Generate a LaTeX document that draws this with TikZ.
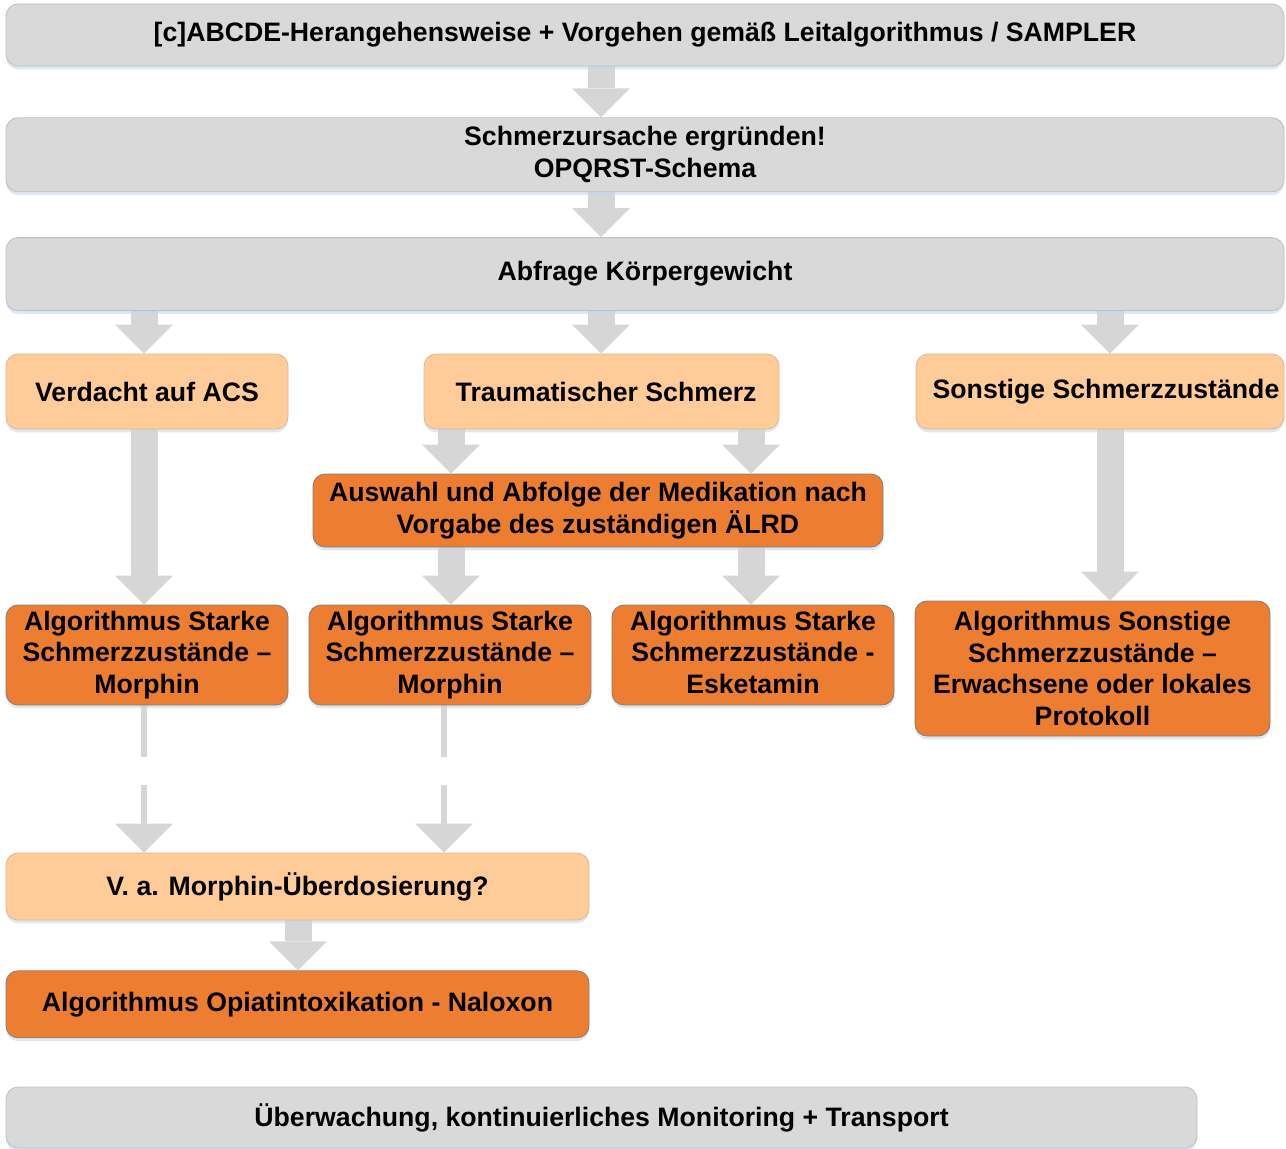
\documentclass[tikz,border=0pt]{standalone}
\usepackage{fontspec}
\setmainfont{Liberation Sans}
\usetikzlibrary{positioning}
\usetikzlibrary{arrows.meta}
\usetikzlibrary{shadows}
\usetikzlibrary{backgrounds}

\definecolor{boxgray}{HTML}{D9D9D9}
\definecolor{flowgray}{HTML}{D6D6D6}
\definecolor{peach}{HTML}{FFCC99}
\definecolor{deeporange}{HTML}{ED7D31}
\definecolor{rimgray}{HTML}{BFBFBF}
\definecolor{shadowblue}{HTML}{C8D8EE}

\tikzset{
    stage/.style={rectangle,rounded corners=9pt,align=center,inner sep=2pt,line width=0.6pt,
        font=\bfseries\fontsize{20}{23.8}\selectfont,
        drop shadow={shadow xshift=0pt,shadow yshift=-2.5pt,fill=shadowblue,opacity=0.6}},
    greystage/.style={stage,fill=boxgray,draw=rimgray},
    peachstage/.style={stage,fill=peach,draw=peach!75!gray},
    orangestage/.style={stage,fill=deeporange,draw=gray},
    blockflow/.style={draw=flowgray,line width=20.25pt,
        -{Triangle[length=21.75pt,width=43.5pt,line width=0pt]}},
    dashflow/.style={draw=flowgray,line width=4.5pt,dash pattern=on 39pt off 21pt,
        -{Triangle[length=21.75pt,width=43.5pt,line width=0pt]}}
}

\begin{document}
\begin{tikzpicture}[x=0.75pt,y=-0.75pt]
    \useasboundingbox (0,0) rectangle (1286,1149);

    % main chain
    \node (abcde)  [greystage,minimum width=958.5pt,minimum height=46.5pt] at (645,35)
        {[c]ABCDE-Herangehensweise + Vorgehen gemäß Leitalgorithmus / SAMPLER};
    \node (cause)  [greystage,minimum width=958.5pt,minimum height=55.5pt,below=38.25pt of abcde]
        {Schmerzursache ergründen!\\OPQRST-Schema};
    \node (weight) [greystage,minimum width=958.5pt,minimum height=54.75pt,below=33.75pt of cause]
        {Abfrage Körpergewicht};

    % three branches
    \node (acs)    [peachstage,minimum width=211.5pt,minimum height=56.25pt] at (147,391.5)
        {Verdacht auf ACS};
    \node (trauma) [peachstage,minimum width=266.25pt,minimum height=56.25pt] at (601.5,391.5)
        {\hspace{7pt}Traumatischer Schmerz};
    \node (other)  [peachstage,minimum width=276pt,minimum height=56.25pt] at (1100,391.5)
        {\hspace{9pt}Sonstige Schmerzzustände};

    \node (choice) [orangestage,minimum width=427.5pt,minimum height=54.75pt] at (598,510.5)
        {Auswahl und Abfolge der Medikation nach\\Vorgabe des zuständigen ÄLRD};

    % algorithms
    \node (acsmor)  [orangestage,minimum width=211.5pt,minimum height=75pt] at (147,655)
        {Algorithmus Starke\\Schmerzzustände –\\Morphin};
    \node (traumor) [orangestage,minimum width=211.5pt,minimum height=75pt] at (450,655)
        {Algorithmus Starke\\Schmerzzustände –\\Morphin};
    \node (esket)   [orangestage,minimum width=211.5pt,minimum height=75pt] at (753,655)
        {Algorithmus Starke\\Schmerzzustände -\\Esketamin\vphantom{p}};
    \node (othalg)  [orangestage,minimum width=266.25pt,minimum height=101.25pt] at (1092.5,668.5)
        {Algorithmus Sonstige\\Schmerzzustände –\\Erwachsene oder lokales\\Protokoll};

    % overdose
    \node (overdose) [peachstage,minimum width=437.25pt,minimum height=50.25pt] at (297.5,886.5)
        {V. a. Morphin-Überdosierung?};
    \node (naloxon)  [orangestage,minimum width=437.25pt,minimum height=50.25pt,below=37.5pt of overdose]
        {Algorithmus Opiatintoxikation - Naloxon};

    \node (monitor)  [greystage,minimum width=893.25pt,minimum height=45.75pt] at (601.5,1117.5)
        {Überwachung, kontinuierliches Monitoring + Transport};

    % columns of the arrows
    \coordinate (colA) at (144,0);
    \coordinate (colB) at (444,0);
    \coordinate (colC) at (451,0);
    \coordinate (colD) at (601,0);
    \coordinate (colE) at (751,0);
    \coordinate (colF) at (1110,0);
    \coordinate (colG) at (298,0);

    \begin{scope}[on background layer]
        \draw[blockflow] (abcde.south -| colD)  -- (cause.north -| colD);
        \draw[blockflow] (cause.south -| colD)  -- (weight.north -| colD);
        \draw[blockflow] (weight.south -| colA) -- (acs.north -| colA);
        \draw[blockflow] (weight.south -| colD) -- (trauma.north -| colD);
        \draw[blockflow] (weight.south -| colF) -- (other.north -| colF);

        \draw[blockflow] (trauma.south -| colC) -- (choice.north -| colC);
        \draw[blockflow] (trauma.south -| colE) -- (choice.north -| colE);
        \draw[blockflow] (choice.south -| colC) -- (traumor.north -| colC);
        \draw[blockflow] (choice.south -| colE) -- (esket.north -| colE);

        \draw[blockflow] (acs.south -| colA)    -- (acsmor.north -| colA);
        \draw[blockflow] (other.south -| colF)  -- (othalg.north -| colF);

        \draw[dashflow]  (acsmor.south -| colA)  -- (overdose.north -| colA);
        \draw[dashflow]  (traumor.south -| colB) -- (overdose.north -| colB);

        \draw[blockflow] (overdose.south -| colG) -- (naloxon.north -| colG);
    \end{scope}
\end{tikzpicture}
\end{document}
